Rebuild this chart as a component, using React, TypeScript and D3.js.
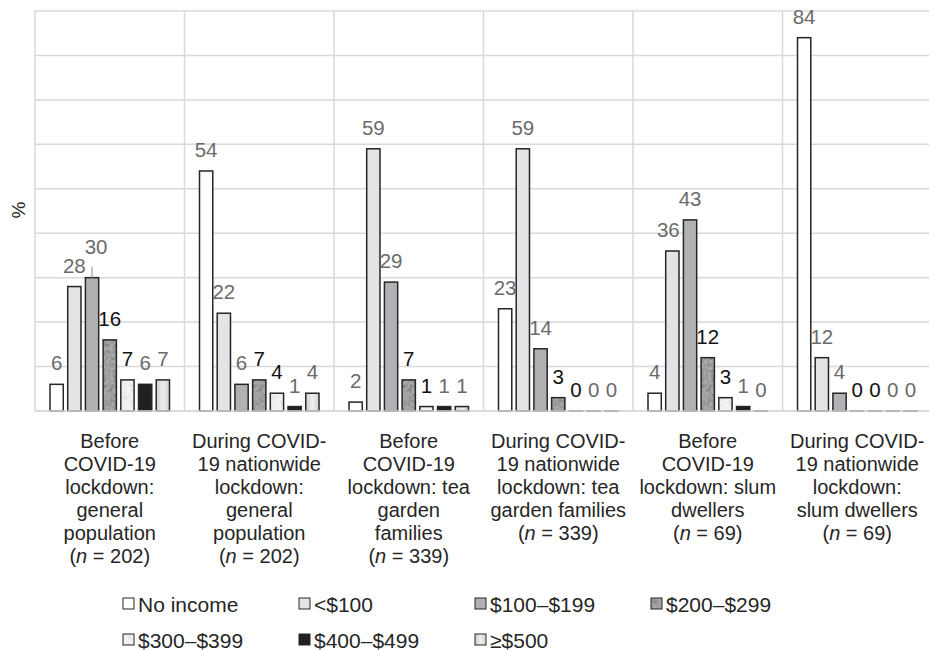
import React from "react";
import * as d3 from "d3";

const categories: string[][] = [
  ["Before", "COVID-19", "lockdown:", "general", "population", "(n = 202)"],
  ["During COVID-", "19 nationwide", "lockdown:", "general", "population", "(n = 202)"],
  ["Before", "COVID-19", "lockdown: tea", "garden", "families", "(n = 339)"],
  ["During COVID-", "19 nationwide", "lockdown: tea", "garden families", "(n = 339)"],
  ["Before", "COVID-19", "lockdown: slum", "dwellers", "(n = 69)"],
  ["During COVID-", "19 nationwide", "lockdown:", "slum dwellers", "(n = 69)"],
];

const seriesNames = ["No income", "<$100", "$100–$199", "$200–$299", "$300–$399", "$400–$499", "≥$500"];

const noIncome = [6, 54, 2, 23, 4, 84];
const under100 = [28, 22, 59, 59, 36, 12];
const from100 = [30, 6, 29, 14, 43, 4];
const from200 = [16, 7, 7, 3, 12, 0];
const from300 = [7, 4, 1, 0, 3, 0];
const from400 = [6, 1, 1, 0, 1, 0];
const over500 = [7, 4, 1, 0, 0, 0];

const seriesValues = [noIncome, under100, from100, from200, from300, from400, over500];
const yTicks = [0, 10, 20, 30, 40, 50, 60, 70, 80, 90];

const fills = ["#ffffff", "#e4e4e6", "#b0b1b4", "url(#tex200)", "url(#tex300)", "#231f20", "url(#tex500)"];
const labelColors = ["#6b6b6b", "#6b6b6b", "#6b6b6b", "#111111", "#111111", "#6b6b6b", "#6b6b6b"];

const W = 929;
const H = 651;
const FONT = "'Liberation Sans', Arial, sans-serif";

export default function App() {
  const plotLeft = 35;
  const plotRight = 932;
  const plotTop = 11;
  const plotBottom = 411;

  const x = d3
    .scaleBand<number>()
    .domain(d3.range(categories.length))
    .range([plotLeft, plotRight])
    .padding(0);
  const inner = d3
    .scaleBand<number>()
    .domain(d3.range(seriesNames.length))
    .range([15, x.bandwidth() - 15])
    .paddingInner(0.25)
    .paddingOuter(0);
  const y = d3.scaleLinear().domain([0, 90]).range([plotBottom, plotTop]);

  const renderLine = (line: string) => {
    const m = line.match(/^\((n)( = .*)$/);
    if (m) {
      return (
        <>
          <tspan>(</tspan>
          <tspan fontStyle="italic">n</tspan>
          <tspan>{m[2]}</tspan>
        </>
      );
    }
    return line;
  };

  const legendCols = [123, 299, 475, 651];
  const legendRows = [604, 640];

  return (
    <div style={{ position: "absolute", left: 0, top: 0 }}>
      <svg width={W} height={H} style={{ display: "block", background: "#fff" }} fontFamily={FONT}>
        <defs>
          <filter id="fDark" x="0" y="0" width="100%" height="100%" filterUnits="userSpaceOnUse">
            <feTurbulence type="fractalNoise" baseFrequency="0.28" numOctaves="2" seed="4" result="n" />
            <feColorMatrix
              in="n"
              type="matrix"
              values="0 0 0 0 0.2  0 0 0 0 0.2  0 0 0 0 0.2  2.4 0 0 0 -0.95"
              result="spots"
            />
            <feFlood floodColor="#a9a9a9" result="bg" />
            <feMerge>
              <feMergeNode in="bg" />
              <feMergeNode in="spots" />
            </feMerge>
          </filter>
          <filter id="fLight" x="0" y="0" width="100%" height="100%" filterUnits="userSpaceOnUse">
            <feTurbulence type="fractalNoise" baseFrequency="0.25" numOctaves="2" seed="9" result="n" />
            <feColorMatrix
              in="n"
              type="matrix"
              values="0 0 0 0 0.6  0 0 0 0 0.6  0 0 0 0 0.6  1.6 0 0 0 -0.75"
              result="spots"
            />
            <feFlood floodColor="#f2f2f2" result="bg" />
            <feMerge>
              <feMergeNode in="bg" />
              <feMergeNode in="spots" />
            </feMerge>
          </filter>
          <pattern id="tex200" patternUnits="userSpaceOnUse" width="120" height="120">
            <rect width="120" height="120" filter="url(#fDark)" />
          </pattern>
          <pattern id="tex300" patternUnits="userSpaceOnUse" width="120" height="120">
            <rect width="120" height="120" filter="url(#fLight)" />
          </pattern>
          <linearGradient id="tex500" x1="0" y1="0" x2="1" y2="0">
            <stop offset="0" stopColor="#cfcfcf" />
            <stop offset="0.5" stopColor="#ededed" />
            <stop offset="1" stopColor="#d2d2d2" />
          </linearGradient>
        </defs>

        {/* horizontal gridlines */}
        {yTicks.map((t) => (
          <line key={"h" + t} x1={plotLeft} x2={W} y1={y(t)} y2={y(t)} stroke="#d9d9d9" strokeWidth={1.5} />
        ))}
        {/* vertical gridlines */}
        {d3.range(categories.length + 1).map((i) => {
          const xv = i < categories.length ? (x(i) as number) : plotRight;
          return (
            <line key={"v" + i} x1={xv} x2={xv} y1={plotTop} y2={plotBottom} stroke="#d9d9d9" strokeWidth={1.5} />
          );
        })}

        {/* bars */}
        {categories.map((_, ci) => (
          <g key={"c" + ci} transform={`translate(${x(ci)},0)`}>
            {seriesValues.map((vals, si) => {
              const v = vals[ci];
              const bx = inner(si) as number;
              const by = y(v);
              const h = Math.max(plotBottom - by, 0.01);
              return (
                <rect
                  key={"b" + si}
                  x={bx}
                  y={plotBottom - h}
                  width={inner.bandwidth()}
                  height={h}
                  fill={fills[si]}
                  stroke="#262626"
                  strokeWidth={1.5}
                />
              );
            })}
          </g>
        ))}

        {/* baseline */}
        <line x1={plotLeft} x2={W} y1={plotBottom} y2={plotBottom} stroke="#d9d9d9" strokeWidth={1.5} />

        {/* data labels */}
        {categories.map((_, ci) => (
          <g key={"l" + ci} transform={`translate(${x(ci)},0)`}>
            {seriesValues.map((vals, si) => {
              const v = vals[ci];
              const cx = (inner(si) as number) + inner.bandwidth() / 2;
              const nudged = ci === 0 && si === 2;
              const dy = nudged ? -10 : 0;
              const dx = nudged ? 4 : ci === 4 && si === 1 ? -4 : 0;
              return (
                <g key={"t" + si}>
                  {nudged && (
                    <line x1={cx} x2={cx} y1={y(v) - 11} y2={y(v)} stroke="#9a9a9a" strokeWidth={1.2} />
                  )}
                  <text
                    x={cx + dx}
                    y={y(v) - 14 + dy}
                    textAnchor="middle"
                    fontSize={20.5}
                    fill={labelColors[si]}
                  >
                    {v}
                  </text>
                </g>
              );
            })}
          </g>
        ))}

        {/* y-axis title */}
        <text
          transform={`translate(25,210) rotate(-90)`}
          textAnchor="middle"
          fontSize={19}
          fill="#262626"
        >
          %
        </text>

        {/* category labels */}
        {categories.map((lines, ci) => (
          <text
            key={"cat" + ci}
            x={(x(ci) as number) + x.bandwidth() / 2}
            textAnchor="middle"
            fontSize={20}
            fill="#262626"
          >
            {lines.map((ln, li) => (
              <tspan key={li} x={(x(ci) as number) + x.bandwidth() / 2} y={448 + li * 23}>
                {renderLine(ln)}
              </tspan>
            ))}
          </text>
        ))}

        {/* legend */}
        {seriesNames.map((name, si) => {
          const col = si % 4;
          const row = Math.floor(si / 4);
          const lx = legendCols[col];
          const ly = legendRows[row];
          return (
            <g key={"lg" + si}>
              <rect
                x={lx}
                y={ly - 6}
                width={11}
                height={11}
                fill={fills[si]}
                stroke="#262626"
                strokeWidth={1}
              />
              <text x={lx + 15} y={ly + 7.5} fontSize={21} fill="#262626">
                {name}
              </text>
            </g>
          );
        })}
      </svg>
    </div>
  );
}
